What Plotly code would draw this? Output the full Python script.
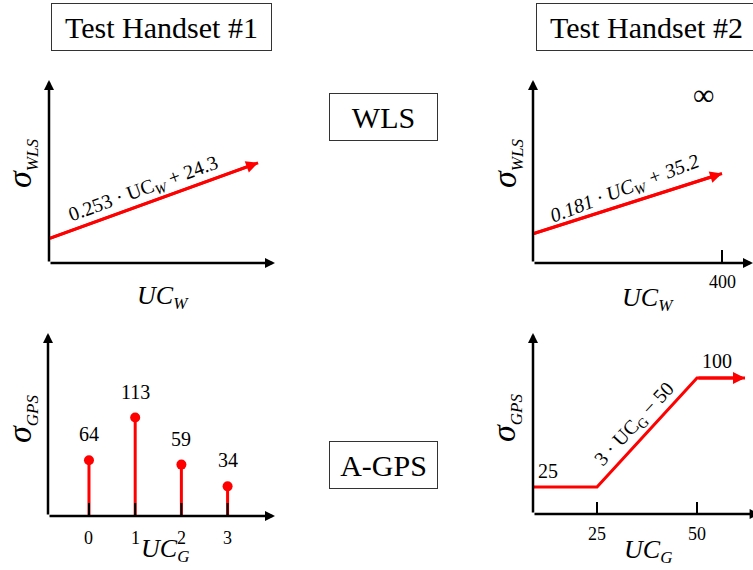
import plotly.graph_objects as go

W, H = 753, 570
FONT = "Liberation Serif"
RED = "#ff0000"

# ---------------- data ----------------
wls1_uc = [0, 300]
wls1_sigma = [24.3, 100.2]          # 0.253*UC_W + 24.3
wls1_label = "0.253 · UC<sub><i>W</i></sub> + 24.3"

wls2_uc = [0, 400]
wls2_sigma = [35.2, 107.6]          # 0.181*UC_W + 35.2
wls2_label = "<i>0.181 · UC<sub>W</sub> + 35.2</i>"
wls2_tickvals = [400]
wls2_ticktext = ["400"]

gps1_uc = [0, 1, 2, 3]
gps1_sigma = [64, 113, 59, 34]
gps1_tickvals = [0, 1, 2, 3]
gps1_ticktext = ["0", "1", "2", "3"]

gps2_uc = [9, 25, 50, 62]
gps2_sigma = [25, 25, 100, 100]
gps2_label = "3 · UC<sub>G</sub> − 50"
gps2_tickvals = [25, 50]
gps2_ticktext = ["25", "50"]


def px(x):
    return x / W


def py(y):
    return 1 - y / H


# panel boxes in pixels: (left, right, top, bottom), data ranges
panels = {
    1: dict(box=(49, 275, 80, 263), xr=[0, 324.3], yr=[0, 183]),
    2: dict(box=(533, 753, 80, 263), xr=[0, 465.6], yr=[0, 220]),
    3: dict(box=(48, 275, 333, 516), xr=[-0.887, 4.026], yr=[0, 210]),
    4: dict(box=(533, 753, 333, 514), xr=[9, 64], yr=[6.42, 131]),
}

fig = go.Figure()
layout = dict(
    width=W, height=H, margin=dict(l=0, r=0, t=0, b=0),
    paper_bgcolor="white", plot_bgcolor="white", showlegend=False,
    font=dict(family=FONT, color="black"),
)
annotations = []
shapes = []

for i, p in panels.items():
    l, r, t, b = p["box"]
    sfx = "" if i == 1 else str(i)
    layout["xaxis" + sfx] = dict(domain=[px(l), px(r)], range=p["xr"], visible=False,
                                 anchor="y" + sfx, fixedrange=True)
    layout["yaxis" + sfx] = dict(domain=[py(b), py(t)], range=p["yr"], visible=False,
                                 anchor="x" + sfx, fixedrange=True)
    xr, yr = "x" + sfx, "y" + sfx
    x0, x1 = p["xr"]
    y0, y1 = p["yr"]
    xtip = x1 + (x1 - x0) * 0.03 if i == 4 else x1
    # axes arrows
    for (tx, ty) in [(xtip, y0), (x0, y1)]:
        annotations.append(dict(x=tx, y=ty, ax=x0, ay=y0, xref=xr, yref=yr, axref=xr, ayref=yr,
                                showarrow=True, arrowhead=2, arrowsize=0.8, arrowwidth=2.5,
                                arrowcolor="black", text=""))


def red_arrow(xs, ys, sfx):
    xr, yr = "x" + sfx, "y" + sfx
    fig.add_trace(go.Scatter(x=xs, y=ys, mode="lines", line=dict(color=RED, width=3),
                             xaxis=xr, yaxis=yr, hoverinfo="skip"))
    annotations.append(dict(x=xs[-1], y=ys[-1], ax=xs[-2], ay=ys[-2], xref=xr, yref=yr,
                            axref=xr, ayref=yr, showarrow=True, arrowhead=2, arrowsize=0.8,
                            arrowwidth=3, arrowcolor=RED, text=""))


def label(**kw):
    d = dict(showarrow=False, xanchor="center", yanchor="middle")
    d.update(kw)
    annotations.append(d)


# Panel 1: WLS handset 1
red_arrow(wls1_uc, wls1_sigma, "")
label(x=(wls1_uc[0] + wls1_uc[-1]) / 2, y=(wls1_sigma[0] + wls1_sigma[-1]) / 2,
      xref="x", yref="y", text=wls1_label, textangle=-20,
      xshift=-10, yshift=11, font=dict(size=20))

# Panel 2: WLS handset 2
red_arrow(wls2_uc, wls2_sigma, "2")
label(x=(wls2_uc[0] + wls2_uc[-1]) / 2, y=(wls2_sigma[0] + wls2_sigma[-1]) / 2,
      xref="x2", yref="y2", text=wls2_label, textangle=-21,
      xshift=-3, yshift=14, font=dict(size=20))
for v, tt in zip(wls2_tickvals, wls2_ticktext):
    shapes.append(dict(type="line", xref="x2", yref="y2", ysizemode="pixel",
                       yanchor=panels[2]["yr"][0], x0=v, x1=v, y0=-10, y1=13,
                       line=dict(color="black", width=2)))
    label(x=v, y=panels[2]["yr"][0], xref="x2", yref="y2", text=tt,
          yshift=-19, font=dict(size=18))
label(x=px(703), y=py(95), xref="paper", yref="paper", text="∞", font=dict(size=30))

# Panel 3: A-GPS handset 1 (stems)
stem_x, stem_y = [], []
for u, s in zip(gps1_uc, gps1_sigma):
    stem_x += [u, u, None]
    stem_y += [0, s, None]
fig.add_trace(go.Scatter(x=stem_x, y=stem_y, mode="lines", line=dict(color=RED, width=3),
                         xaxis="x3", yaxis="y3", hoverinfo="skip"))
fig.add_trace(go.Scatter(x=gps1_uc, y=gps1_sigma, mode="markers",
                         marker=dict(color=RED, size=10), xaxis="x3", yaxis="y3",
                         hoverinfo="skip"))
for u, s in zip(gps1_uc, gps1_sigma):
    label(x=u, y=s, xref="x3", yref="y3", text=str(s), yshift=26, font=dict(size=20))
for v, tt in zip(gps1_tickvals, gps1_ticktext):
    shapes.append(dict(type="line", xref="x3", yref="y3", ysizemode="pixel",
                       yanchor=0, x0=v, x1=v, y0=-11, y1=13,
                       line=dict(color="black", width=2)))
    label(x=v, y=0, xref="x3", yref="y3", text=tt, yshift=-22, font=dict(size=18))

# Panel 4: A-GPS handset 2 (piecewise)
red_arrow(gps2_uc, gps2_sigma, "4")
label(x=gps2_uc[0], y=gps2_sigma[0], xref="x4", yref="y4",
      text=str(gps2_sigma[0]), xshift=15, yshift=16, font=dict(size=20))
label(x=gps2_uc[2], y=gps2_sigma[2], xref="x4", yref="y4",
      text=str(gps2_sigma[2]), xshift=20, yshift=17, font=dict(size=20))
label(x=(gps2_uc[1] + gps2_uc[2]) / 2, y=(gps2_sigma[1] + gps2_sigma[2]) / 2,
      xref="x4", yref="y4", text=gps2_label,
      textangle=-47, xshift=-12, yshift=8, font=dict(size=20))
for v, tt in zip(gps2_tickvals, gps2_ticktext):
    shapes.append(dict(type="line", xref="x4", yref="y4", ysizemode="pixel",
                       yanchor=panels[4]["yr"][0], x0=v, x1=v, y0=-9, y1=12,
                       line=dict(color="black", width=2)))
    label(x=v, y=panels[4]["yr"][0], xref="x4", yref="y4", text=tt,
          yshift=-20, font=dict(size=18))

# Axis titles
SUB = '<sub><span style="font-size:{}px">{}</span></sub>'
ylab_wls = "<i>σ" + SUB.format(17, "WLS") + "</i>"
ylab_gps = "<i>σ" + SUB.format(17, "GPS") + "</i>"
xlab_w = "<i>UC" + SUB.format(17, "W") + "</i>"
xlab_g = "<i>UC" + SUB.format(17, "G") + "</i>"
for (cx, cy, txt) in [(21, 164, ylab_wls), (506, 163, ylab_wls),
                      (21, 419, ylab_gps), (506, 418, ylab_gps)]:
    label(x=px(cx), y=py(cy), xref="paper", yref="paper", text=txt,
          textangle=-90, font=dict(size=34))
for (cx, cy, txt) in [(163, 297, xlab_w), (648, 299, xlab_w),
                      (165, 550, xlab_g), (648, 551, xlab_g)]:
    label(x=px(cx), y=py(cy), xref="paper", yref="paper", text=txt, font=dict(size=26))

# Boxed labels
for (cx, cy, w, txt) in [(161.5, 27, 219, "Test Handset #1"), (646.5, 27, 219, "Test Handset #2"),
                         (383.5, 117, 107, "WLS"), (383.5, 465, 107, "A-GPS")]:
    label(x=px(cx), y=py(cy), xref="paper", yref="paper", text=txt,
          width=w, height=46, borderpad=0, borderwidth=1,
          bordercolor="#333333", bgcolor="white", font=dict(size=30))

layout["annotations"] = annotations
layout["shapes"] = shapes
fig.update_layout(**layout)
fig.write_html("out.html")
